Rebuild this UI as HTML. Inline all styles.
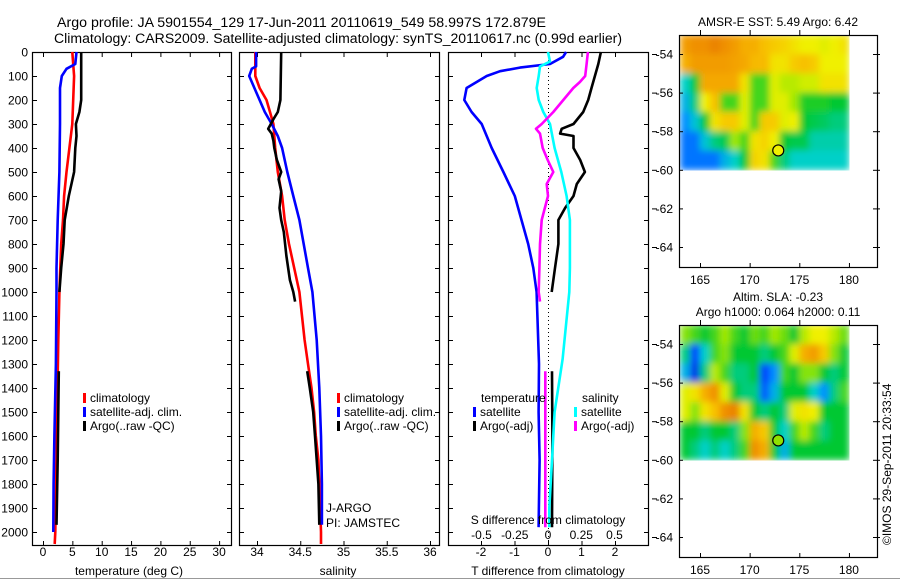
<!DOCTYPE html>
<html><head><meta charset="utf-8"><style>
html,body{margin:0;padding:0;background:#fff;}
svg{display:block;font-family:"Liberation Sans",sans-serif;}
</style></head><body>
<svg id="fig" width="900" height="580" viewBox="0 0 900 580" xmlns="http://www.w3.org/2000/svg">
<defs>
<filter id="blur" x="0" y="0" width="1" height="1" filterUnits="objectBoundingBox"><feGaussianBlur stdDeviation="3.5" edgeMode="duplicate"/></filter>
<clipPath id="clip0"><rect x="679" y="35" width="173" height="137"/></clipPath>
<clipPath id="clip290"><rect x="679" y="325" width="173" height="137"/></clipPath>
</defs>
<rect x="0" y="0" width="900" height="580" fill="#fff"/>
<line x1="0" y1="578.5" x2="900" y2="578.5" stroke="#999" stroke-width="1"/>
<text x="57" y="27" font-size="13.5" textLength="489" lengthAdjust="spacingAndGlyphs">Argo profile: JA 5901554_129 17-Jun-2011 20110619_549 58.997S 172.879E</text>
<text x="54" y="43" font-size="13.5" textLength="568" lengthAdjust="spacingAndGlyphs">Climatology: CARS2009. Satellite-adjusted climatology: synTS_20110617.nc (0.99d earlier)</text>
<g id="layer"></g>
</svg>
<script>
// ---------- data ----------
const depthTicks=[0,100,200,300,400,500,600,700,800,900,1000,1100,1200,1300,1400,1500,1600,1700,1800,1900,2000];
const tempTicks=[0,5,10,15,20,25,30];
const salTicks=[34,34.5,35,35.5,36];
const salTickLabels=["34","34.5","35","35.5","36"];
const tdiffTicks=[-2,-1,0,1,2];
const sdiffTicks=[-0.5,-0.25,0,0.25,0.5];
const sdiffTickLabels=["-0.5","-0.25","0","0.25","0.5"];

const climTDepth=[0,100,300,400,500,600,700,800,1000,1200,1500,2000,2050];
const climT=[5.0,5.3,5.0,4.5,4.0,3.6,3.4,3.1,2.8,2.6,2.4,2.1,2.0];
const satTDepth=[0,50,70,100,150,300,500,700,900,1000,1300,1600,1800,2000];
const satT=[5.7,5.5,4.0,3.2,2.9,2.9,2.8,2.5,2.3,2.3,2.2,1.95,1.8,1.75];
const argoTDepth=[0,200,250,300,350,400,500,600,700,800,900,1000,null,1330,1500,1700,1970];
const argoT=[6.5,6.5,6.2,5.6,5.7,5.5,5.3,4.4,3.7,3.5,3.1,2.8,null,2.7,2.6,2.5,2.3];

const climSDepth=[0,100,150,200,250,300,400,500,600,700,800,900,1000,1100,1200,1300,1400,1500,1600,1700,1800,2000,2050];
const climS=[33.98,33.98,34.03,34.11,34.15,34.19,34.21,34.24,34.29,34.32,34.37,34.43,34.49,34.52,34.55,34.59,34.63,34.66,34.68,34.71,34.72,34.74,34.74];
const satSDepth=[0,60,70,100,150,200,250,300,350,400,500,600,700,800,900,1000,1200,1400,1600,1800,1970];
const satS=[33.99,33.99,33.94,33.91,33.97,34.03,34.09,34.17,34.24,34.29,34.35,34.42,34.49,34.54,34.59,34.64,34.69,34.72,34.74,34.75,34.75];
const argoSDepth=[0,200,250,280,320,340,370,400,450,500,530,580,650,700,750,850,950,1000,1040,null,1330,1400,1500,1600,1700,1800,1970];
const argoS=[34.28,34.27,34.24,34.19,34.13,34.17,34.19,34.20,34.23,34.28,34.25,34.28,34.26,34.28,34.31,34.34,34.38,34.42,34.44,null,34.58,34.61,34.65,34.67,34.69,34.71,34.72];

const satTdDepth=[0,20,50,65,80,100,150,200,250,300,400,500,600,700,800,900,1000,1300,1500,1700,1980];
const satTd=[0.54,0.45,0.06,-0.84,-1.43,-1.83,-2.43,-2.5,-2.28,-1.98,-1.68,-1.33,-0.99,-0.79,-0.59,-0.44,-0.34,-0.27,-0.28,-0.25,-0.28];
const argoTdDepth=[0,50,100,150,200,250,300,320,340,350,400,450,500,550,600,650,700,800,900,1000,null,1330,1600,1980];
const argoTd=[1.58,1.5,1.4,1.3,1.2,1.05,0.76,0.41,0.36,0.76,0.76,0.96,1.1,0.86,0.76,0.51,0.31,0.31,0.21,0.11,null,0.12,0.13,0.12];
const satSdDepth=[0,40,60,100,150,200,250,300,400,500,600,700,900,1000,1280,1500,1700,1900,1980];
const satSd=[0.0,0.015,-0.06,-0.07,-0.085,-0.07,-0.035,0.015,0.05,0.1,0.14,0.165,0.165,0.16,0.11,0.05,0.03,0.01,0.01];
const argoSdDepth=[0,50,100,125,150,200,250,300,320,340,400,450,500,550,600,700,800,900,1000,1040,null,1330,1600,1980];
const argoSd=[0.3,0.29,0.28,0.24,0.19,0.115,0.04,-0.047,-0.09,-0.06,-0.04,-0.002,0.04,-0.01,0.0,-0.047,-0.06,-0.065,-0.07,-0.06,null,-0.02,-0.02,-0.02];

const mapLonTicks=[165,170,175,180];
const mapLatTicks=[-54,-56,-58,-60,-62,-64];
const gridLons=[163,164,165,166,167,168,169,170,171,172,173,174,175,176,177,178,179];
const gridLats=[-53,-54,-55,-56,-57,-58,-59];
const sstGrid=[
[.88,.9,.9,.92,.9,.88,.85,.85,.82,.8,.78,.75,.72,.72,.7,.72,.75],
[.85,.88,.88,.88,.88,.87,.86,.83,.83,.75,.75,.8,.82,.8,.72,.72,.72],
[.4,.5,.86,.86,.86,.86,.75,.55,.55,.7,.65,.65,.68,.68,.75,.75,.75],
[.35,.45,.72,.82,.55,.55,.7,.55,.55,.7,.7,.62,.52,.52,.52,.5,.5],
[.3,.38,.5,.75,.8,.8,.7,.55,.8,.8,.7,.72,.5,.48,.47,.45,.45],
[.25,.25,.38,.45,.48,.62,.55,.75,.78,.72,.5,.48,.48,.42,.42,.42,.42],
[.25,.25,.25,.25,.35,.4,.5,.78,.75,.55,.45,.4,.4,.4,.4,.4,.4]];
const slaGrid=[
[.6,.55,.5,.55,.62,.55,.5,.58,.55,.62,.58,.5,.65,.72,.72,.65,.58],
[.45,.15,.4,.55,.6,.5,.5,.5,.45,.5,.55,.7,.85,.88,.8,.6,.5],
[.35,.12,.45,.65,.55,.45,.45,.5,.15,.3,.55,.5,.6,.6,.5,.45,.5],
[.7,.75,.85,.9,.7,.5,.45,.45,.2,.35,.5,.5,.5,.4,.3,.45,.55],
[.7,.6,.75,.82,.9,.92,.75,.5,.45,.5,.45,.7,.75,.72,.5,.5,.5],
[.5,.5,.45,.5,.5,.45,.6,.85,.8,.5,.4,.55,.65,.55,.45,.5,.5],
[.5,.45,.4,.45,.4,.45,.55,.9,.85,.5,.35,.5,.5,.5,.5,.5,.5]];
const floatLon=172.879, floatLat=-58.997;

// ---------- helpers ----------
const NS="http://www.w3.org/2000/svg";
const layer=document.getElementById('layer');
function mk(tag,attrs,parent){const e=document.createElementNS(NS,tag);for(const k in attrs)e.setAttribute(k,attrs[k]);(parent||layer).appendChild(e);return e;}
function txt(x,y,s,size,anchor,parent){const t=mk('text',{x:x,y:y,'font-size':size,'text-anchor':anchor||'start'},parent);t.textContent=s;return t;}
const yD=d=>52+d*0.24;
const TOP=52,BOT=545;

function panelFrame(name,x0,x1,ticks,xf,labels,tickLabelY){
  const g=mk('g',{});
  
  
  const r=mk('rect',{x:x0+.5,y:TOP+.5,width:x1-x0,height:BOT-TOP,fill:'none',stroke:'#000','stroke-width':1.2},g);
  
  
  depthTicks.forEach(d=>{const y=yD(d)+.5;
    mk('line',{x1:x0,y1:y,x2:x0+5,y2:y,stroke:'#000'},g);
    mk('line',{x1:x1-4,y1:y,x2:x1+1,y2:y,stroke:'#000'},g);});
  ticks.forEach((v,i)=>{const x=xf(v)+.5;
    mk('line',{x1:x,y1:TOP,x2:x,y2:TOP+5,stroke:'#000'},g);
    mk('line',{x1:x,y1:BOT-4,x2:x,y2:BOT+1,stroke:'#000'},g);
    if(labels){const t=txt(xf(v),tickLabelY,labels[i],12,'middle',g);
      
      }
  });
  return g;
}
function series(name,depths,vals,xf,color,w){
  let d='',pen=false;
  for(let i=0;i<depths.length;i++){
    if(depths[i]===null||vals[i]===null){pen=false;continue;}
    const x=xf(vals[i]).toFixed(1),y=yD(depths[i]).toFixed(1);
    d+=(pen?'L':'M')+x+' '+y+' ';pen=true;
  }
  const p=mk('path',{d:d,fill:'none',stroke:color,'stroke-width':w||2.6,'stroke-linejoin':'round'});
  
  
}
function legendEntry(x,y,color,label,name){
  const b=mk('rect',{x:x,y:y-9,width:3,height:10,fill:color});
  
  
  const t=txt(x+7,y,label,12);
  
  
}

// ---------- panel 1: temperature ----------
const xT=v=>43+v*5.87;
panelFrame('temperature-panel',32,231,tempTicks,xT,tempTicks.map(String),556);
depthTicks.forEach(d=>{const t=txt(28,yD(d)+4.5,String(d),12,'end');
  
  });
let t1=txt(129,575,'temperature (deg C)',12,'middle');


series('temperature-climatology-line',climTDepth,climT,xT,'#ff0000');
series('temperature-satellite-line',satTDepth,satT,xT,'#0000ff');
series('temperature-argo-line',argoTDepth,argoT,xT,'#000000');
legendEntry(83,402,'#ff0000','climatology','legend-climatology');
legendEntry(83,416,'#0000ff','satellite-adj. clim.','legend-satellite');
legendEntry(83,430,'#000000','Argo(..raw -QC)','legend-argo');

// ---------- panel 2: salinity ----------
const xS=v=>257+(v-34)*86.5;
panelFrame('salinity-panel',239,439,salTicks,xS,salTickLabels,556);
let t2=txt(338,575,'salinity',12,'middle');


series('salinity-climatology-line',climSDepth,climS,xS,'#ff0000');
series('salinity-satellite-line',satSDepth,satS,xS,'#0000ff');
series('salinity-argo-line',argoSDepth,argoS,xS,'#000000');
legendEntry(337,402,'#ff0000','climatology','legend-climatology');
legendEntry(337,416,'#0000ff','satellite-adj. clim.','legend-satellite');
legendEntry(337,430,'#000000','Argo(..raw -QC)','legend-argo');
let ja=txt(326,512,'J-ARGO',12);


let pi=txt(326,527,'PI: JAMSTEC',12);



// ---------- panel 3: differences ----------
const xTd=v=>548+v*33.5;
const xSd=v=>548+v*133;
panelFrame('difference-panel',448,648,tdiffTicks,xTd,tdiffTicks.map(String),556);
const zl=mk('line',{x1:548.5,y1:TOP,x2:548.5,y2:BOT,stroke:'#000','stroke-width':1,'stroke-dasharray':'1 3'});


series('temperature-satellite-diff-line',satTdDepth,satTd,xTd,'#0000ff');
series('temperature-argo-diff-line',argoTdDepth,argoTd,xTd,'#000000');
series('salinity-satellite-diff-line',satSdDepth,satSd,xSd,'#00ffff');
series('salinity-argo-diff-line',argoSdDepth,argoSd,xSd,'#ff00ff');
sdiffTicks.forEach((v,i)=>{const t=txt(xSd(v),539,sdiffTickLabels[i],12,'middle');
  
  });
let t3=txt(548,524,'S difference from climatology',12,'middle');


let t4=txt(548,575,'T difference from climatology',12,'middle');


let lt=txt(481,402,'temperature',12);


let ls=txt(582,402,'salinity',12);


legendEntry(473,416,'#0000ff','satellite','legend-t-satellite');
legendEntry(473,430,'#000000','Argo(-adj)','legend-t-argo');
legendEntry(574,416,'#00ffff','satellite','legend-s-satellite');
legendEntry(574,430,'#ff00ff','Argo(-adj)','legend-s-argo');

// ---------- maps ----------
const stops=[[0,[0,0,144]],[0.15,[0,64,255]],[0.3,[0,144,255]],[0.4,[0,208,200]],[0.5,[0,200,48]],[0.62,[160,232,0]],[0.72,[240,240,0]],[0.82,[248,192,0]],[0.9,[240,144,0]],[1,[208,80,0]]];
function cmap(v){v=Math.max(0,Math.min(1,v));
  for(let i=1;i<stops.length;i++){if(v<=stops[i][0]){const a=stops[i-1],b=stops[i],f=(v-a[0])/(b[0]-a[0]);
    const c=a[1].map((q,k)=>Math.round(q+(b[1][k]-q)*f));return 'rgb('+c.join(',')+')';}}
  return 'rgb(208,80,0)';}

function drawMap(name,oy,grid,title1,title2,dotColor){
  const x0=679,x1=877,y0=35+oy,y1=267+oy;
  const lx=v=>700+(v-165)*9.93;
  const ly=v=>54+oy+(-54-v)*19.3;
  const g=mk('g',{});
  
  
  const clipG=mk('g',{'clip-path':'url(#clip'+oy+')'},g);
  const cells=mk('g',{filter:'url(#blur)'},clipG);
  
  
  gridLats.forEach((lat,r)=>gridLons.forEach((lon,c)=>{
    const xa=lx(lon),xb=lx(lon+1),ya=ly(lat),yb=ly(lat-1);
    const cell=mk('rect',{x:xa.toFixed(1),y:ya.toFixed(1),width:(xb-xa+0.4).toFixed(1),height:(yb-ya+0.4).toFixed(1),fill:cmap(grid[r][c])},cells);
    
    
  }));
  const fr=mk('rect',{x:x0+.5,y:y0+.5,width:x1-x0,height:y1-y0,fill:'none',stroke:'#000','stroke-width':1.2},g);
  
  
  mapLonTicks.forEach(v=>{const x=lx(v)+.5;
    mk('line',{x1:x,y1:y0,x2:x,y2:y0-5,stroke:'#000'},g);
    mk('line',{x1:x,y1:y1,x2:x,y2:y1-4,stroke:'#000'},g);
    const t=txt(lx(v),y1+17,String(v),12,'middle',g);
    
    });
  mapLatTicks.forEach(v=>{const y=ly(v)+.5;
    mk('line',{x1:x0,y1:y,x2:x0+4,y2:y,stroke:'#000'},g);
    mk('line',{x1:x1-4,y1:y,x2:x1+3,y2:y,stroke:'#000'},g);
    mk('line',{x1:652,y1:y,x2:657,y2:y,stroke:'#000'},g);
    const t=txt(673,ly(v)+4.5,String(v),12,'end',g);
    
    });
  const dot=mk('circle',{cx:lx(floatLon),cy:ly(floatLat),r:5.5,fill:dotColor,stroke:'#000','stroke-width':1.2},g);
  
  
  if(title2){
    const a=txt(778,oy+11,title1,12,'middle',g);
    
    
    const b=txt(778,oy+26,title2,12,'middle',g);
    
    
  } else {
    const a=txt(778,oy+26,title1,12,'middle',g);
    
    
  }
}
drawMap('sst-map',0,sstGrid,'AMSR-E SST: 5.49 Argo: 6.42',null,'#f0f000');
drawMap('sla-map',290,slaGrid,'Altim. SLA: -0.23','Argo h1000: 0.064 h2000: 0.11','#90e000');
const cr=txt(0,0,'©IMOS 29-Sep-2011 20:33:54',12,'start');
cr.setAttribute('transform','translate(891,545) rotate(-90)');


</script>
</body></html>
